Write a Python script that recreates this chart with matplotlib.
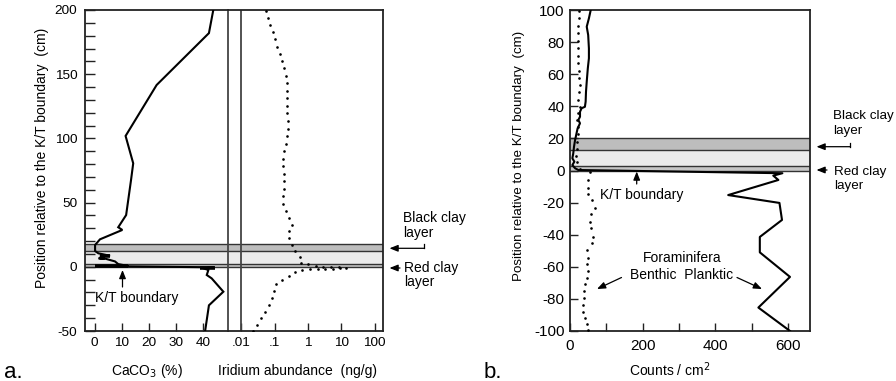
import matplotlib
matplotlib.use("Agg")
import matplotlib.pyplot as plt
from matplotlib.ticker import FixedLocator, FixedFormatter, NullLocator
from matplotlib.lines import Line2D
from matplotlib.patches import FancyArrowPatch

plt.rcParams['font.family'] = ['Liberation Sans', 'DejaVu Sans']
plt.rcParams['axes.unicode_minus'] = False

# ---------------- data: panel a ----------------
ca_depth = [200, 182, 141.6, 101.9, 80.6, 67.6, 40.3, 30.8, 28.7, 21.4, 17, 15.7, 12.3,
            10.5, 8.6, 8.6, 7.5, 6.6, 6.6, 6.3, 4.2, 2.1, 0.6, 0.6, -0.4, -1.2, -2.5,
            -6.4, -9, -19.4, -30, -50]
ca_pct = [43.6, 42, 22.8, 11.4, 14.2, 13.4, 11.6, 8.7, 10.2, 2.0, 0.2, 0.2, 0.2,
          1.4, 5.7, 2.0, 3.0, 3.0, 1.5, 4.0, 7.5, 8.7, 12.4, 0.2, 44.0, 40, 41.8,
          41.2, 43, 47.3, 42, 40.6]
# thick horizontal segments in the CaCO3 trace
ca_bar_depth = [8.6, 6.6, 0.6, -1.2]
ca_bar_lo = [2.0, 2.0, 0.2, 38.7]
ca_bar_hi = [5.7, 3.9, 12.4, 44.2]

ir_depth = [199.5, 193.8, 188.1, 182.6, 177.2, 171.4, 165.7, 160.3, 154.6, 148.8, 142.9,
            137.1, 131.2, 125.5, 119.5, 113.6, 107.6, 101.9, 95.6, 90, 84, 78.3, 72.5,
            66.6, 60.6, 54.9, 49.1, 43.7, 38.2, 32.8, 27.9, 22.2, 17, 12.3, 7.6, 3.2,
            2.0, 0.9, 0.1, 0.0, -0.4, -0.9, -1.2, -1.5, -1.5, -1.7, -2.0, -2.5, -3.8,
            -7.2, -10, -13.4, -18.8, -24.5, -30, -35, -39.9, -45.1, -50]
ir_val = [0.054, 0.063, 0.074, 0.087, 0.102, 0.12, 0.145, 0.169, 0.194, 0.223, 0.23,
          0.234, 0.234, 0.239, 0.239, 0.246, 0.246, 0.239, 0.214, 0.194, 0.178, 0.178, 0.19,
          0.194, 0.187, 0.178, 0.174, 0.219, 0.275, 0.338, 0.275, 0.269, 0.324, 0.416, 0.587, 0.63,
          1.0, 1.74, 2.88, 4.79, 8.3, 13.8, 9.1, 5.6, 3.3, 1.95, 1.12, 0.67, 0.416,
          0.269, 0.169, 0.11, 0.095, 0.085, 0.066, 0.050, 0.038, 0.029, 0.022]

ca_ticks = [0, 10, 20, 30, 40]
ir_ticks = [0.01, 0.1, 1, 10, 100]
ir_tick_labels = ['.01', '.1', '1', '10', '100']
a_yticks = [-50, 0, 50, 100, 150, 200]

# ---------------- data: panel b ----------------
pl_depth = [100, 94.8, 89.6, 84.4, 76.1, 69.9, 63.7, 55.3, 49.1, 42.9, 39.7, 38.8, 36.6,
            33.5, 31.5, 29.4, 26.3, 23.2, 19, 14.8, 10.7, 7.6, 5.5, 3.4, 1.4, 0.3, -1.7,
            -3.2, -5.9, -15.3, -20.2, -30.8, -41.4, -51, -66.3, -85.4, -100]
pl_count = [57, 52, 46, 50, 52, 52, 49, 46, 44, 43, 41, 32, 27.5,
            27.5, 23, 27.5, 21, 18, 14, 11, 9, 6.5, 12, 6.5, 14, 23, 584,
            559, 573, 435, 576, 583, 522, 522, 605, 518, 605]

be_depth = [99.4, 94.8, 90.2, 85.5, 80.7, 76.1, 71.5, 66.8, 62, 57.4, 53.3, 48.7, 43.9,
            39.7, 35.6, 31.5, 27.3, 22.6, 17.9, 13.4, 9.2, 5.1, 0.9,
            -1.1, -5.9, -10.7, -14.6, -18.4, -23.2, -27.3, -31.9, -36, -41.2, -45.4, -49.5,
            -54.3, -58.4, -62.6, -66.8, -70.9, -75.1, -79.6, -83.8, -88, -92.1, -95.8, -99.5]
be_count = [26, 24, 23, 23, 23, 23, 23, 23, 25, 26, 27.5, 25, 23,
            27.5, 23, 20, 23, 21, 20, 18, 17, 18, 27.5,
            55, 49, 50, 50, 60, 69, 58, 55, 58, 64, 60, 46,
            49, 46, 49, 46, 41, 39, 39, 37, 37, 41, 46, 50]

b_xticks = [0, 200, 400, 600]
b_xminor = [100, 300, 500]
b_yticks = [-100, -80, -60, -40, -20, 0, 20, 40, 60, 80, 100]

# clay layers: (bottom, top, face colour)
a_layers = [(12, 18, '#bdbdbd'), (2, 12, '#ebebeb'), (0, 2, '#c6c6c6')]
b_layers = [(13, 20, '#bdbdbd'), (2.5, 13, '#ebebeb'), (0, 2.5, '#c6c6c6')]

# ---------------- figure ----------------
W, H = 896, 381
fig = plt.figure(figsize=(W / 100, H / 100), dpi=100)


def fx(px):
    return px / W


def fy(py):
    return 1 - py / H


def rect(x0, x1, y0, y1):
    return [fx(x0), fy(y1), (x1 - x0) / W, (y1 - y0) / H]


SPINE = '#222222'
FS = 10
FS_A = 9.7
FS_B = 11

ax_ca = fig.add_axes(rect(85, 228, 10, 331))
ax_ir = fig.add_axes(rect(228, 383, 10, 331), sharey=ax_ca)
ax_b = fig.add_axes(rect(570, 810, 10, 331))

for ax in (ax_ca, ax_ir, ax_b):
    for s in ax.spines.values():
        s.set_linewidth(1.3)
        s.set_color(SPINE)
    ax.set_facecolor('none')

# layers across both parts of panel a
for ax in (ax_ca, ax_ir):
    for lo, hi, c in a_layers:
        ax.axhspan(lo, hi, facecolor=c, edgecolor='none', zorder=0)
    for yv in (18, 12, 2, 0):
        ax.axhline(yv, color='#333333', lw=1.0, zorder=1)
for lo, hi, c in b_layers:
    ax_b.axhspan(lo, hi, facecolor=c, edgecolor='none', zorder=0)
for yv in (20, 13, 2.5, 0):
    ax_b.axhline(yv, color='#333333', lw=1.0, zorder=1)

# CaCO3 curve
ax_ca.plot(ca_pct, ca_depth, color='k', lw=1.5, zorder=3, solid_joinstyle='miter')
ax_ca.hlines(ca_bar_depth, ca_bar_lo, ca_bar_hi, color='k', lw=2.6, zorder=3)
ax_ca.set_xlim(-3.5, 49)
ax_ca.set_ylim(-50, 200)
ax_ca.spines['right'].set_visible(False)
ax_ca.xaxis.set_major_locator(FixedLocator(ca_ticks))
ax_ca.xaxis.set_minor_locator(NullLocator())
ax_ca.yaxis.set_major_locator(FixedLocator(a_yticks))
ax_ca.yaxis.set_minor_locator(FixedLocator(list(range(-50, 201, 10))))
ax_ca.tick_params(axis='y', which='both', direction='in', length=7.2, width=1.0,
                  color=SPINE, labelsize=FS_A, pad=5.5)
ax_ca.tick_params(axis='x', which='both', direction='in', length=5.8, width=1.0,
                  color=SPINE, labelsize=FS_A, pad=4)

# Iridium (log scale)
ax_ir.plot(ir_val, ir_depth, ls='none', marker='o', ms=1.9, mec='none', mfc='k', zorder=3)
ax_ir.set_xscale('log')
ax_ir.set_xlim(10 ** -2.4, 10 ** 2.25)
ax_ir.axvline(0.01, color='#444444', lw=1.3, zorder=2)
ax_ir.spines['left'].set_color('#444444')
ax_ir.xaxis.set_major_locator(FixedLocator(ir_ticks))
ax_ir.xaxis.set_major_formatter(FixedFormatter(ir_tick_labels))
ax_ir.xaxis.set_minor_locator(NullLocator())
ax_ir.tick_params(axis='x', direction='in', length=5.8, width=1.0, color=SPINE,
                  labelsize=FS_A, pad=4)
ax_ir.tick_params(axis='y', which='both', left=False, labelleft=False)

# panel b
ax_b.plot(pl_count, pl_depth, color='k', lw=1.5, zorder=3)
ax_b.plot(be_count, be_depth, ls='none', marker='o', ms=1.9, mec='none', mfc='k', zorder=3)
ax_b.set_xlim(0, 660)
ax_b.set_ylim(-100, 100)
ax_b.xaxis.set_major_locator(FixedLocator(b_xticks))
ax_b.xaxis.set_minor_locator(FixedLocator(b_xminor))
ax_b.yaxis.set_major_locator(FixedLocator(b_yticks))
ax_b.tick_params(axis='both', which='both', direction='in', length=6, width=1.0,
                 color=SPINE, labelsize=FS_B)
ax_b.tick_params(axis='y', pad=4)
ax_b.tick_params(axis='x', pad=6)

# axis titles
ylab = 'Position relative to the K/T boundary  (cm)'
fig.text(fx(42), fy(158), ylab, rotation=90, ha='center', va='center', fontsize=FS)
fig.text(fx(519), fy(156), ylab, rotation=90, ha='center', va='center', fontsize=9.6)
fig.text(fx(147), fy(371), 'CaCO$_3$ (%)', ha='center', va='center', fontsize=FS)
fig.text(fx(298), fy(371), 'Iridium abundance  (ng/g)', ha='center', va='center', fontsize=FS)
fig.text(fx(670), fy(370), 'Counts / cm$^2$', ha='center', va='center', fontsize=FS)
fig.text(fx(4), fy(372), 'a.', ha='left', va='center', fontsize=16)
fig.text(fx(484), fy(372), 'b.', ha='left', va='center', fontsize=16)

# annotations
arrow_kw = dict(arrowstyle='-|>,head_length=0.5,head_width=0.2', mutation_scale=10,
                color='k', lw=0.9, shrinkA=0, shrinkB=0)


def arrow(x0, y0, x1, y1):
    fig.add_artist(FancyArrowPatch((fx(x0), fy(y0)), (fx(x1), fy(y1)),
                                   transform=fig.transFigure, **arrow_kw))


def label(x, y, s, ha='left', size=FS):
    fig.text(fx(x), fy(y), s, ha=ha, va='center', fontsize=size)


# panel a side labels
label(403, 218, 'Black clay')
label(403, 233, 'layer')
fig.add_artist(Line2D([fx(424), fx(424)], [fy(243.5), fy(248.3)], color='k', lw=0.9))
arrow(424.5, 248.3, 389.5, 248.3)
label(404, 268, 'Red clay')
label(404, 282, 'layer')
arrow(400, 268, 389.5, 268)

# panel b side labels
label(833, 116, 'Black clay', size=9.6)
label(833, 131, 'layer', size=9.6)
fig.add_artist(Line2D([fx(850), fx(850)], [fy(142.5), fy(146.7)], color='k', lw=0.9))
arrow(850.5, 146.7, 816.5, 146.7)
label(834, 171.5, 'Red clay', size=9.6)
label(834, 186, 'layer', size=9.6)
arrow(827, 170, 816.5, 170)

# K/T boundary markers
label(95, 298, 'K/T boundary')
arrow(122.5, 287, 122.5, 270)
label(600, 195, 'K/T boundary')
arrow(636.7, 184, 636.7, 171.5)

# foraminifera legend
fig.text(fx(682), fy(258), 'Foraminifera', ha='center', va='center', fontsize=FS)
fig.text(fx(682), fy(275), 'Benthic  Planktic', ha='center', va='center', fontsize=FS)
arrow(621.5, 277.5, 597, 289)
arrow(737, 277.5, 762, 289)

fig.savefig('out.png', dpi=100)
